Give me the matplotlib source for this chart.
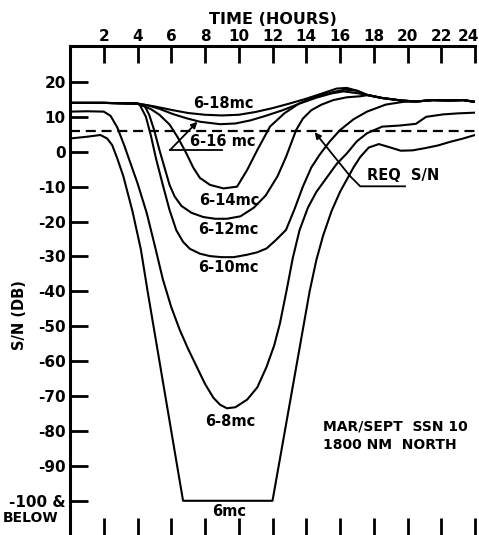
import matplotlib
matplotlib.use("Agg")
import matplotlib.pyplot as plt
from matplotlib.transforms import ScaledTranslation

plt.rcParams['font.family'] = ['DejaVu Sans']

# ---- data (hours, dB) ----
h_618 = [0, 2, 4, 5, 6, 7, 8, 9, 10, 11, 12, 13, 14, 15, 15.8, 16.4, 17, 17.6, 18.5, 19.6, 20.5, 21.5, 22.5, 23.3, 24]
s_618 = [14, 14, 13.8, 13.0, 12.0, 11.1, 10.6, 10.4, 10.6, 11.4, 12.5, 13.8, 15.2, 16.8, 18.1, 18.3, 17.5, 16.3, 15.4, 14.7, 14.4, 14.8, 14.7, 14.8, 14.3]

h_616 = [0, 2, 4, 4.6, 5.3, 6.1, 6.9, 7.7, 8.9, 9.8, 10.7, 11.6, 12.6, 13.6, 14.6, 15.5, 16.2, 17.0, 17.6, 18.5, 19.6, 20.5, 21.5, 22.5, 23.3, 24]
s_616 = [14, 14, 13.8, 13.3, 12.3, 10.8, 9.6, 8.6, 7.9, 8.1, 9.0, 10.3, 11.9, 13.8, 15.5, 16.7, 17.3, 16.8, 16.3, 15.4, 14.7, 14.4, 14.8, 14.7, 14.8, 14.3]

h_614 = [0, 2, 4, 4.3, 4.8, 5.3, 5.9, 6.4, 6.9, 7.3, 7.7, 8.3, 9.1, 9.9, 10.5, 11.1, 11.85, 12.7, 13.6, 14.5, 15.5, 16.3, 17.0, 17.6, 18.5, 19.6, 20.5, 21.5, 22.5, 23.3, 24]
s_614 = [14, 14, 13.8, 13.2, 12.2, 10.6, 7.8, 4.0, -0.5, -4.5, -7.5, -9.5, -10.5, -10.0, -5.2, 0.5, 7.2, 11.0, 13.9, 15.6, 17.0, 17.8, 17.5, 16.3, 15.4, 14.7, 14.4, 14.8, 14.7, 14.8, 14.3]

h_612 = [0, 2, 4, 4.44, 4.7, 5.0, 5.3, 5.6, 5.9, 6.2, 6.6, 7.2, 7.9, 8.6, 9.3, 10.1, 10.9, 11.6, 12.3, 12.8, 13.4, 13.8, 14.3, 14.9, 15.6, 16.4, 17.2, 17.6, 18.5, 19.6, 20.5, 21.5, 22.5, 23.3, 24]
s_612 = [14, 14, 13.8, 13.0, 10.5, 6.0, 0.5, -4.5, -9.5, -12.8, -15.5, -17.5, -18.7, -19.2, -19.2, -18.5, -16.0, -12.5, -7.0, -1.5, 6.2, 9.5, 11.9, 13.5, 14.8, 15.6, 15.9, 16.2, 15.4, 14.7, 14.4, 14.8, 14.7, 14.8, 14.3]

h_610 = [0, 2, 4, 4.15, 4.5, 4.8, 5.1, 5.5, 5.9, 6.3, 6.7, 7.1, 7.7, 8.3, 9.0, 9.7, 10.5, 11.1, 11.65, 12.2, 12.8, 13.3, 13.8, 14.3, 14.8, 15.4, 16.0, 16.8, 17.6, 18.7, 19.75, 20.5, 21.5, 22.5, 23.3, 24]
s_610 = [14, 14, 13.8, 13.3, 10.0, 4.5, -2.0, -9.5, -16.7, -22.5, -25.8, -27.8, -29.2, -29.9, -30.2, -30.2, -29.5, -28.8, -27.7, -25.3, -22.4, -16.5, -10.0, -4.5, -0.8, 3.0, 6.2, 9.3, 11.5, 13.5, 14.3, 14.4, 14.8, 14.7, 14.8, 14.3]

h_68 = [0, 1.0, 2.0, 2.4, 2.8, 3.2, 3.6, 4.0, 4.55, 5.04, 5.5, 6.0, 6.5, 7.0, 7.5, 8.0, 8.5, 8.9, 9.3, 9.8, 10.5, 11.1, 11.65, 12.1, 12.44, 12.84, 13.2, 13.6, 14.1, 14.6, 15.2, 15.8, 16.4, 17.0, 17.6, 18.5, 19.5, 20.5, 21.1, 22.1, 23.0, 24.0]
s_68 = [11.5, 11.6, 11.5, 10.3, 7.0, 2.0, -3.5, -9.0, -17.6, -27.2, -36.5, -44.5, -51.0, -56.5, -61.5, -66.5, -70.5, -72.5, -73.5, -73.2, -71.0, -67.5, -61.6, -55.5, -49.2, -39.6, -30.5, -22.5, -16.0, -11.5, -7.5, -3.5, -0.5, 3.0, 5.3, 7.2, 7.5, 8.0, 10.0, 10.7, 11.0, 11.2]

h_6 = [0, 1.0, 1.8, 2.2, 2.5, 2.8, 3.16, 3.7, 4.2, 4.6, 6.7, 12.0, 14.2, 14.6, 15.0, 15.5, 16.0, 16.4, 16.8, 17.2, 17.7, 18.3, 19.0, 19.6, 20.3, 21.0, 21.8, 22.5, 23.3, 24.0]
s_6 = [3.8, 4.3, 4.8, 3.8, 1.9, -1.9, -7.0, -17.0, -28.0, -40.0, -100, -100, -40.0, -31.0, -24.0, -17.0, -11.5, -8.0, -4.5, -1.5, 1.2, 2.2, 1.2, 0.3, 0.4, 1.0, 1.8, 2.8, 3.8, 4.8]

req_sn = 6.0

x_ticks = [2, 4, 6, 8, 10, 12, 14, 16, 18, 20, 22, 24]
x_labels = ['2', '4', '6', '8', '10', '12', '14', '16', '18', '20', '22', '24']
y_ticks = [20, 10, 0, -10, -20, -30, -40, -50, -60, -70, -80, -90, -100]
y_labels = ['20', '10', '0', '-10', '-20', '-30', '-40', '-50', '-60', '-70', '-80', '-90', '-100 &']

# ---- figure ----
fig = plt.figure(figsize=(4.79, 5.35), dpi=100)
ax = fig.add_axes([70 / 479, 0.0, 405 / 479, 489 / 535])
ax.set_xlim(0, 24)
ax.set_ylim(-109.8, 30.3)

lw = 1.5
for hh, ss in [(h_618, s_618), (h_616, s_616), (h_614, s_614), (h_612, s_612),
               (h_610, s_610), (h_68, s_68), (h_6, s_6)]:
    ax.plot(hh, ss, color='black', lw=lw, solid_joinstyle='round', solid_capstyle='round')

ax.plot([0, 24], [req_sn, req_sn], color='black', lw=1.6, dashes=(4.5, 2.6))

# spines and ticks
for side in ['right', 'bottom']:
    ax.spines[side].set_visible(False)
for side in ['left', 'top']:
    ax.spines[side].set_linewidth(2.2)

ax.set_xticks(x_ticks)
ax.set_xticklabels(x_labels)
ax.tick_params(axis='x', which='both', direction='in', length=12, width=2,
               top=True, bottom=True, labeltop=True, labelbottom=False, pad=1.5,
               labelsize=11)
ax.set_yticks(y_ticks)
ax.set_yticklabels(y_labels)
ax.tick_params(axis='y', direction='in', length=13, width=2, left=True, right=False,
               pad=3, labelsize=11)
for t in ax.get_xticklabels() + ax.get_yticklabels():
    t.set_fontweight('bold')
# keep the last top label inside the canvas
last = ax.xaxis.get_major_ticks()[-1].label2
last.set_transform(last.get_transform() + ScaledTranslation(-7 / 100, 0, fig.dpi_scale_trans))

fig.text(273 / 479, 1 - 19 / 535, 'TIME (HOURS)', ha='center', va='center',
         fontsize=11.5, fontweight='bold')
fig.text(20 / 479, 1 - 315 / 535, 'S/N (DB)', ha='center', va='center',
         rotation=90, fontsize=10.5, fontweight='bold')
fig.text(3 / 479, 1 - 518 / 535, 'BELOW', ha='left', va='center',
         fontsize=10, fontweight='bold')

tk = dict(ha='center', va='center', fontsize=10.5, fontweight='bold')
ax.text(9.07, 13.7, '6-18mc', **tk)
ax.text(9.07, 3.0, '6-16 mc', **tk)
ax.text(9.42, -14.1, '6-14mc', **tk)
ax.text(9.36, -22.4, '6-12mc', **tk)
ax.text(9.36, -33.2, '6-10mc', **tk)
ax.text(9.48, -77.3, '6-8mc', **tk)
ax.text(9.45, -103.2, '6mc', **tk)

# 6-16 leader
ax.plot([5.93, 9.0], [0.5, 0.5], color='black', lw=1.3)
ax.annotate('', xy=(7.55, 8.6), xytext=(5.93, 0.5),
            arrowprops=dict(arrowstyle='-|>', color='black', lw=1.3,
                            mutation_scale=9, shrinkA=0, shrinkB=0))

# REQ S/N leader
ax.text(17.6, -6.9, 'REQ  S/N', ha='left', va='center', fontsize=10.5, fontweight='bold')
ax.plot([16.6, 17.2, 19.85], [-7.0, -9.9, -9.9], color='black', lw=1.3)
ax.annotate('', xy=(14.5, 5.6), xytext=(16.6, -7.0),
            arrowprops=dict(arrowstyle='-|>', color='black', lw=1.3,
                            mutation_scale=9, shrinkA=0, shrinkB=0))

ax.text(14.99, -78.6, 'MAR/SEPT  SSN 10', ha='left', va='center', fontsize=10, fontweight='bold')
ax.text(14.99, -83.9, '1800 NM  NORTH', ha='left', va='center', fontsize=10, fontweight='bold')

fig.savefig('out.png', dpi=100)
